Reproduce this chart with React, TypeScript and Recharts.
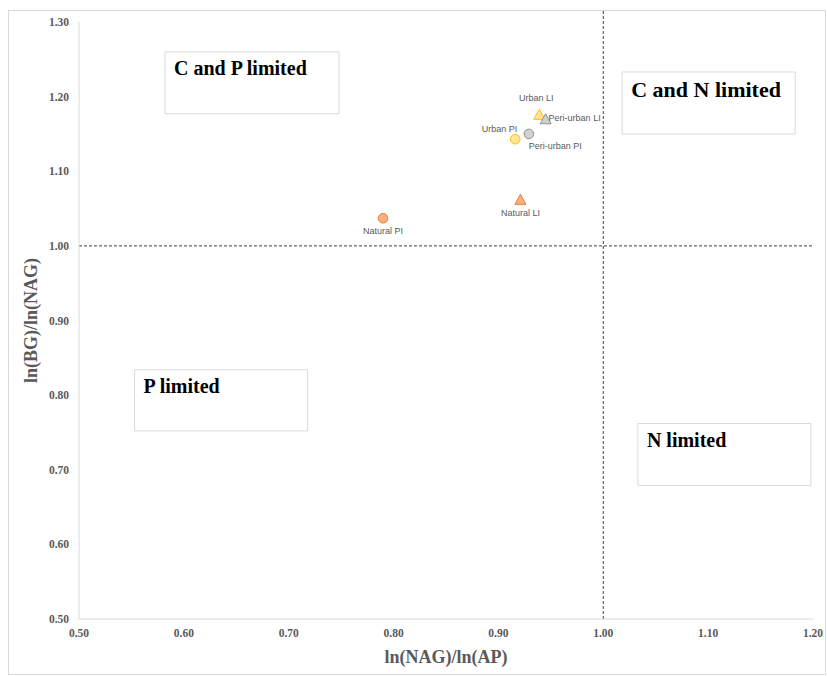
import React from "react";
import {
  ScatterChart, Scatter, XAxis, YAxis, ReferenceLine, ReferenceArea,
} from "recharts";

// ── Data ──────────────────────────────────────────────────────────────────────

const SITES = ["Natural PI", "Natural LI", "Urban PI", "Peri-urban PI", "Urban LI", "Peri-urban LI"];
const NAG_AP = [0.790, 0.921, 0.916, 0.929, 0.939, 0.945];
const BG_NAG = [1.037, 1.061, 1.143, 1.150, 1.175, 1.169];
const MARKER = ["circle", "triangle", "circle", "circle", "triangle", "triangle"];
const LABEL_SIDE = ["below", "below", "upleft", "downright", "above", "right"];

const X_TICKS = [0.5, 0.6, 0.7, 0.8, 0.9, 1.0, 1.1, 1.2];
const Y_TICKS = [0.5, 0.6, 0.7, 0.8, 0.9, 1.0, 1.1, 1.2, 1.3];

const ZONES = ["C and P limited", "C and N limited", "P limited", "N limited"];
const ZONE_X = [[0.582, 0.748], [1.018, 1.183], [0.553, 0.718], [1.033, 1.198]];
const ZONE_Y = [[1.177, 1.260], [1.150, 1.233], [0.752, 0.834], [0.679, 0.762]];

// ── Styles ────────────────────────────────────────────────────────────────────

const SERIF = "'Liberation Serif', 'Times New Roman', serif";
const SANS = "'Liberation Sans', Arial, sans-serif";
const AXIS_GREY = "#595959";

const COLORS: Record<string, { fill: string; stroke: string }> = {
  Natural: { fill: "#f4b183", stroke: "#ed7d31" },
  Urban: { fill: "#ffe699", stroke: "#ffc000" },
  "Peri-urban": { fill: "#d0d0d0", stroke: "#909090" },
};

const LABEL_OFFSET: Record<string, { dx: number; dy: number; anchor: "start" | "middle" | "end" }> = {
  below: { dx: 0, dy: 13, anchor: "middle" },
  upleft: { dx: 2, dy: -10, anchor: "end" },
  downright: { dx: 0, dy: 12, anchor: "start" },
  above: { dx: -3, dy: -17, anchor: "middle" },
  right: { dx: 3, dy: -2, anchor: "start" },
};

const points = SITES.map((name, i) => ({
  name,
  x: NAG_AP[i],
  y: BG_NAG[i],
  marker: MARKER[i],
  side: LABEL_SIDE[i],
}));

// ── Marker shape ──────────────────────────────────────────────────────────────

function SiteMarker(props: any) {
  const { cx, cy, payload } = props;
  const group = payload.name.split(" ")[0];
  const c = COLORS[group];
  const off = LABEL_OFFSET[payload.side];
  return (
    <g>
      {payload.marker === "circle" ? (
        <circle cx={cx} cy={cy} r={4.8} fill={c.fill} stroke={c.stroke} strokeWidth={1} />
      ) : (
        <polygon
          points={`${cx},${cy - 6} ${cx - 5.5},${cy + 4} ${cx + 5.5},${cy + 4}`}
          fill={c.fill}
          stroke={c.stroke}
          strokeWidth={1}
        />
      )}
      <text
        x={cx + off.dx}
        y={cy + off.dy}
        textAnchor={off.anchor}
        dominantBaseline="central"
        fontFamily={SANS}
        fontSize={9}
        fill={AXIS_GREY}
      >
        {payload.name}
      </text>
    </g>
  );
}

// ── Component ─────────────────────────────────────────────────────────────────

export default function App() {
  const tickStyle = { fontSize: 11.5, fill: AXIS_GREY, fontFamily: SERIF, fontWeight: 700 };
  return (
    <div
      style={{
        position: "absolute", left: 8, top: 10, width: 818, height: 665,
        border: "1px solid #d9d9d9", boxSizing: "border-box", background: "#fff",
      }}
    >
      <div style={{ position: "absolute", left: -1, top: -1 }}>
        <ScatterChart width={818} height={665} margin={{ top: 12, right: 13, left: 0, bottom: 0 }}>
          <XAxis
            type="number"
            dataKey="x"
            domain={[0.5, 1.2]}
            ticks={X_TICKS}
            tickFormatter={(v: number) => v.toFixed(2)}
            tick={tickStyle}
            tickLine={false}
            tickMargin={4}
            axisLine={{ stroke: "#d9d9d9" }}
            height={56}
            label={{
              value: "ln(NAG)/ln(AP)", position: "center", dy: 10,
              style: { fontSize: 18, fontWeight: 700, fill: AXIS_GREY, fontFamily: SERIF },
            }}
          />
          <YAxis
            type="number"
            dataKey="y"
            domain={[0.5, 1.3]}
            ticks={Y_TICKS}
            tickFormatter={(v: number) => v.toFixed(2)}
            tick={tickStyle}
            tickLine={false}
            tickMargin={4}
            axisLine={{ stroke: "#d9d9d9" }}
            width={71}
            label={{
              value: "ln(BG)/ln(NAG)", angle: -90, position: "center", dx: -13,
              style: { fontSize: 18, fontWeight: 700, fill: AXIS_GREY, fontFamily: SERIF, textAnchor: "middle" },
            }}
          />
          {ZONES.map((z, i) => (
            <ReferenceArea
              key={z}
              x1={ZONE_X[i][0]}
              x2={ZONE_X[i][1]}
              y1={ZONE_Y[i][0]}
              y2={ZONE_Y[i][1]}
              fill="#ffffff"
              fillOpacity={1}
              stroke="#d9d9d9"
              strokeWidth={1}
              label={{
                value: z,
                position: "insideTopLeft",
                offset: 9,
                style: {
                  fontSize: i === 1 ? 22 : 20, fontWeight: 700, fill: "#000",
                  fontFamily: SERIF,
                },
              }}
            />
          ))}
          <ReferenceLine y={1} stroke="#404040" strokeDasharray="3 2" strokeWidth={1} />
          <ReferenceLine
            segment={[{ x: 1, y: 0.5 }, { x: 1, y: 1.316 }]}
            ifOverflow="visible"
            stroke="#404040"
            strokeDasharray="3 2"
            strokeWidth={1}
          />
          <Scatter data={points} shape={SiteMarker} isAnimationActive={false} />
        </ScatterChart>
      </div>
    </div>
  );
}
